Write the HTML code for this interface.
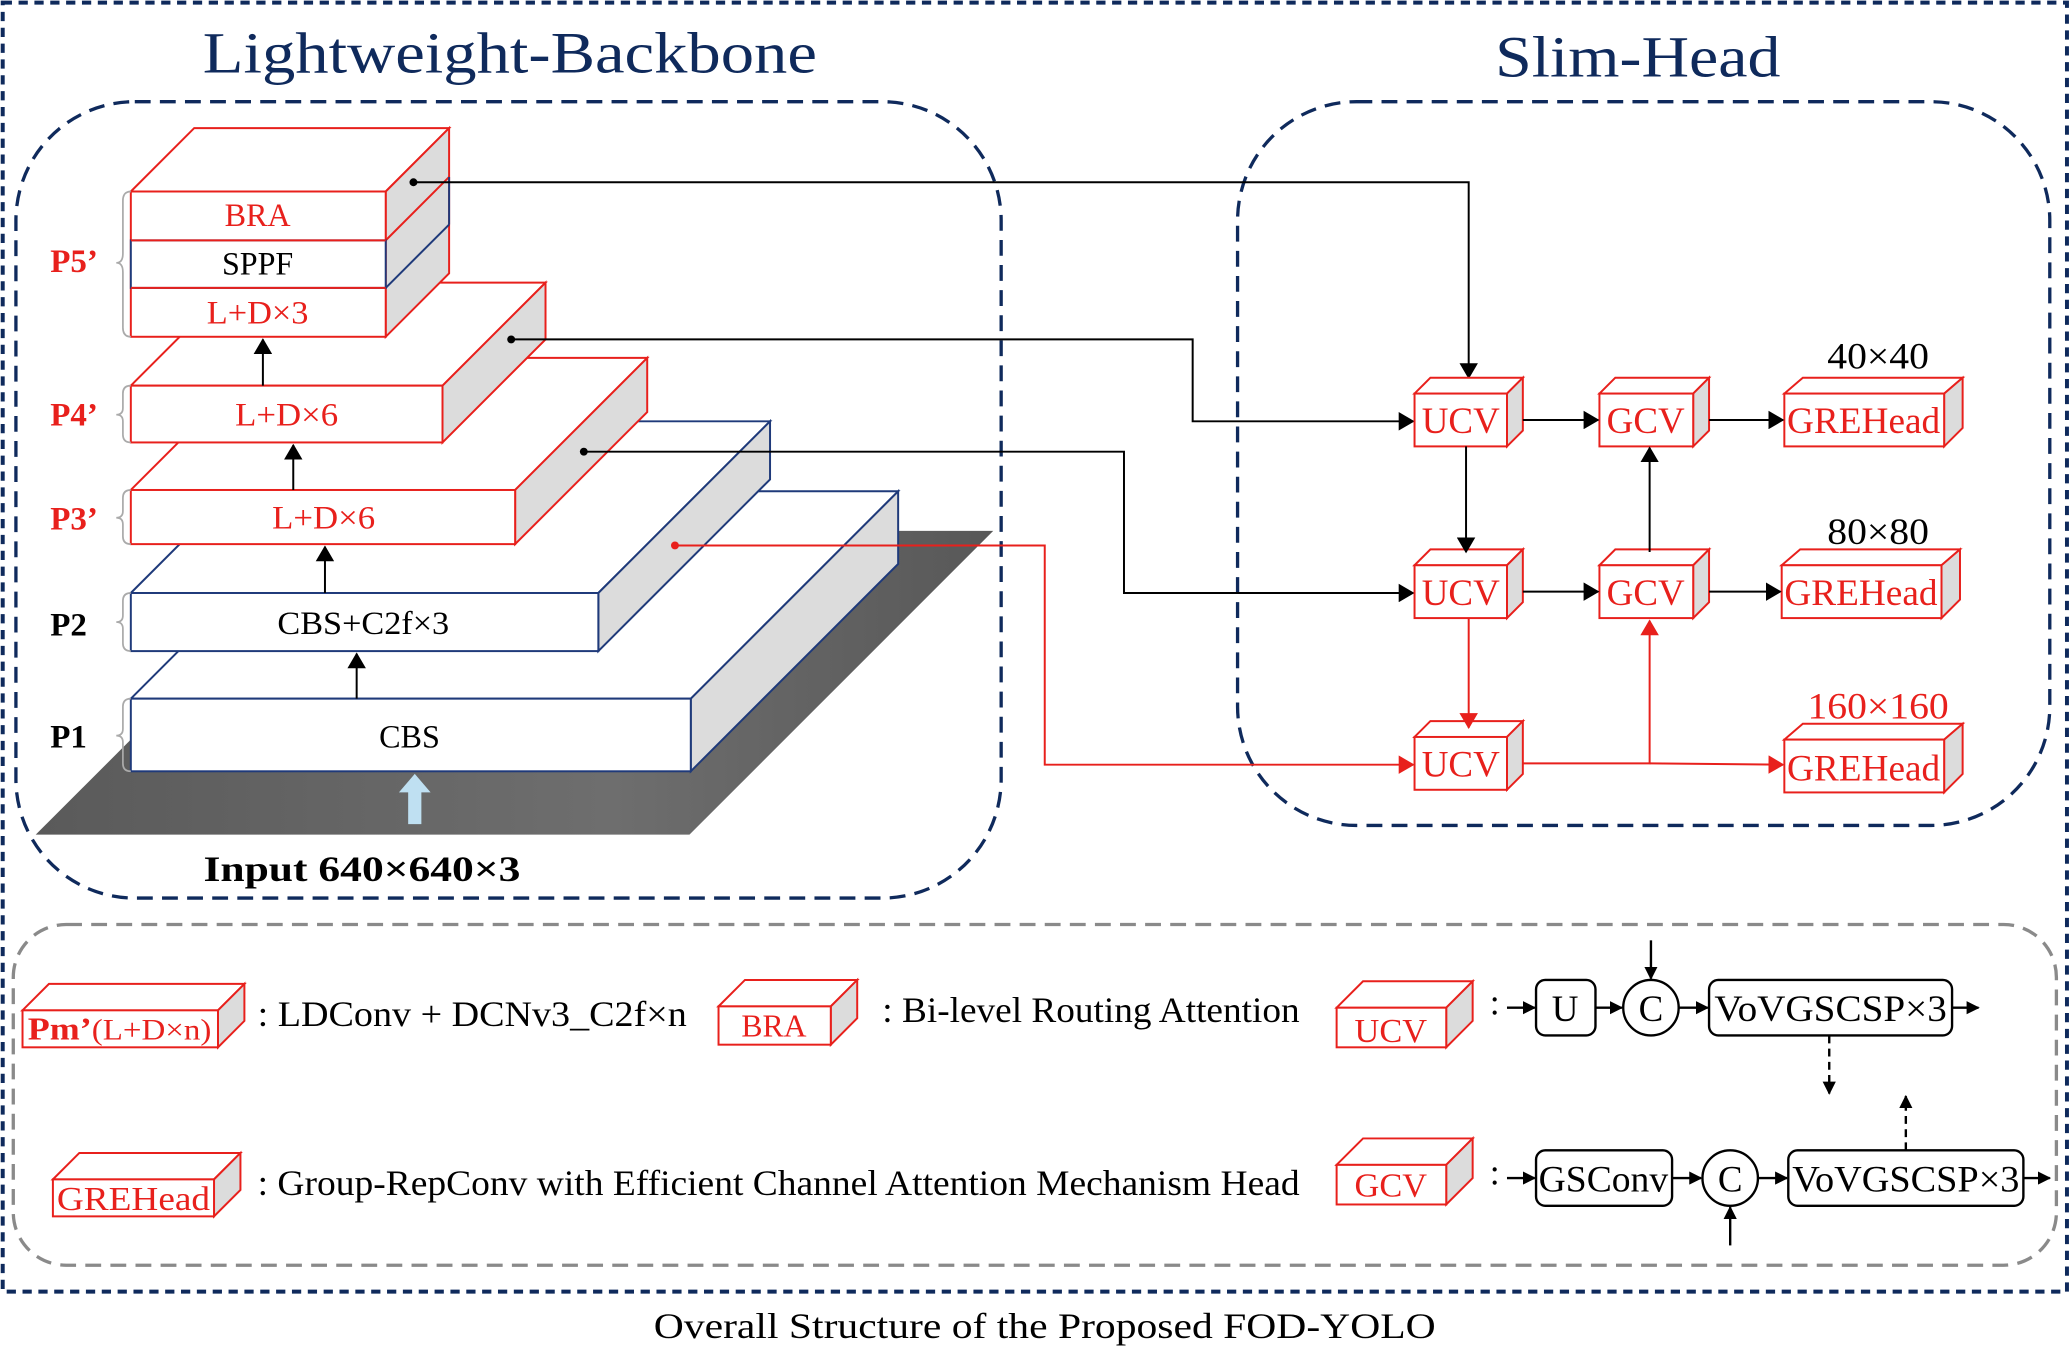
<!DOCTYPE html>
<html><head><meta charset="utf-8"><style>
html,body{margin:0;padding:0;background:#fff;}
svg{display:block;}
text{font-family:"Liberation Serif",serif;}
</style></head><body>
<svg width="2071" height="1359" viewBox="0 0 1568 1029" xmlns="http://www.w3.org/2000/svg">
<defs>
<marker id="ab" markerWidth="10" markerHeight="10" refX="9" refY="5" orient="auto" markerUnits="userSpaceOnUse"><path d="M0,0 L10,5 L0,10 Z" fill="#000"/></marker>
<marker id="abs" markerWidth="12" markerHeight="14" refX="11" refY="7" orient="auto" markerUnits="userSpaceOnUse"><path d="M0,0 L12,7 L0,14 Z" fill="#000"/></marker>
<marker id="ars" markerWidth="12" markerHeight="14" refX="11" refY="7" orient="auto" markerUnits="userSpaceOnUse"><path d="M0,0 L12,7 L0,14 Z" fill="#e8201c"/></marker>
<linearGradient id="gr" x1="0" y1="0" x2="1" y2="0"><stop offset="0" stop-color="#5a5a5a"/><stop offset="0.6" stop-color="#6e6e6e"/><stop offset="1" stop-color="#585858"/></linearGradient>
</defs>

<rect x="2" y="2" width="1563" height="976" fill="none" stroke="#0f2a5c" stroke-width="3" stroke-dasharray="7,5"/>

<text x="386" y="55" font-size="44" fill="#0f2a5c" text-anchor="middle" textLength="465" lengthAdjust="spacingAndGlyphs">Lightweight-Backbone</text>
<text x="1240" y="58" font-size="44" fill="#0f2a5c" text-anchor="middle" textLength="216" lengthAdjust="spacingAndGlyphs">Slim-Head</text>

<rect x="12" y="77" width="746" height="603" rx="90" fill="none" stroke="#0f2a5c" stroke-width="2.5" stroke-dasharray="12,7"/>
<rect x="937" y="77" width="615" height="548" rx="90" fill="none" stroke="#0f2a5c" stroke-width="2.5" stroke-dasharray="12,7"/>
<rect x="10" y="700" width="1547" height="258" rx="40" fill="none" stroke="#8a8a8a" stroke-width="2.5" stroke-dasharray="12,7"/>

<polygon points="27,632 522,632 752,402 257,402" fill="url(#gr)"/>

<g stroke="#1f3a7a" stroke-width="1.5">
<polygon points="99,529 256,372 680,372 523,529" fill="#fff"/>
<polygon points="523,529 680,372 680,427 523,584" fill="#dcdcdc"/>
<rect x="99" y="529" width="424" height="55" fill="#fff"/>
<polygon points="99,449 229,319 583,319 453,449" fill="#fff"/>
<polygon points="453,449 583,319 583,363 453,493" fill="#dcdcdc"/>
<rect x="99" y="449" width="354" height="44" fill="#fff"/>
</g>
<g stroke="#e8201c" stroke-width="1.5">
<polygon points="99,371 199,271 490,271 390,371" fill="#fff"/>
<polygon points="390,371 490,271 490,312 390,412" fill="#dcdcdc"/>
<rect x="99" y="371" width="291" height="41" fill="#fff"/>
<polygon points="99,292 177,214 413,214 335,292" fill="#fff"/>
<polygon points="335,292 413,214 413,257 335,335" fill="#dcdcdc"/>
<rect x="99" y="292" width="236" height="43" fill="#fff"/>
<polygon points="99,145 147,97 340,97 292,145" fill="#fff"/>
<polygon points="292,145 340,97 340,207 292,255" fill="#dcdcdc"/>
<rect x="99" y="145" width="193" height="110" fill="#fff"/>
<line x1="292" y1="182" x2="340" y2="134"/>
</g>
<rect x="99" y="182" width="193" height="36" fill="#fff" stroke="#1f3a7a" stroke-width="1.5"/>
<line x1="292" y1="218" x2="340" y2="170" stroke="#1f3a7a" stroke-width="1.5"/>
<line x1="340" y1="134" x2="340" y2="170" stroke="#1f3a7a" stroke-width="1.5"/>
<line x1="99" y1="182" x2="292" y2="182" stroke="#e8201c" stroke-width="1.5"/>
<line x1="99" y1="218" x2="292" y2="218" stroke="#e8201c" stroke-width="1.5"/>

<g font-size="25" text-anchor="middle">
<text x="195" y="171" fill="#e8201c" textLength="50" lengthAdjust="spacingAndGlyphs">BRA</text>
<text x="195" y="208" fill="#000" textLength="54" lengthAdjust="spacingAndGlyphs">SPPF</text>
<text x="195" y="245" fill="#e8201c" textLength="77" lengthAdjust="spacingAndGlyphs">L+D×3</text>
<text x="217" y="322" fill="#e8201c" textLength="78" lengthAdjust="spacingAndGlyphs">L+D×6</text>
<text x="245" y="400" fill="#e8201c" textLength="78" lengthAdjust="spacingAndGlyphs">L+D×6</text>
<text x="275" y="480" fill="#000" textLength="130" lengthAdjust="spacingAndGlyphs">CBS+C2f×3</text>
<text x="310" y="566" fill="#000" textLength="46" lengthAdjust="spacingAndGlyphs">CBS</text>
</g>
<g font-size="25" font-weight="bold">
<text x="38" y="206" fill="#e8201c">P5’</text>
<text x="38" y="322" fill="#e8201c">P4’</text>
<text x="38" y="401" fill="#e8201c">P3’</text>
<text x="38" y="481" fill="#000">P2</text>
<text x="38" y="566" fill="#000">P1</text>
</g>
<g fill="none" stroke="#aaa" stroke-width="1.3">
<path d="M99,145 Q93,145 93,152 L93,192 Q93,199 88,199 Q93,199 93,206 L93,248 Q93,255 99,255"/>
<path d="M99,292 Q93,292 93,298 L93,309 Q93,314 88,314 Q93,314 93,319 L93,329 Q93,335 99,335"/>
<path d="M99,371 Q93,371 93,377 L93,387 Q93,392 88,392 Q93,392 93,397 L93,406 Q93,412 99,412"/>
<path d="M99,449 Q93,449 93,455 L93,466 Q93,471 88,471 Q93,471 93,476 L93,487 Q93,493 99,493"/>
<path d="M99,529 Q93,529 93,535 L93,552 Q93,557 88,557 Q93,557 93,562 L93,578 Q93,584 99,584"/>
</g>
<g stroke="#000" stroke-width="1.5">
<line x1="270" y1="529" x2="270" y2="495" marker-end="url(#abs)"/>
<line x1="246" y1="449" x2="246" y2="414" marker-end="url(#abs)"/>
<line x1="222" y1="371" x2="222" y2="337" marker-end="url(#abs)"/>
<line x1="199" y1="292" x2="199" y2="257" marker-end="url(#abs)"/>
</g>
<polygon points="309,624 319,624 319,600 326,600 314,586 302,600 309,600" fill="#bfe0f2"/>
<text x="274" y="667" font-size="27" font-weight="bold" text-anchor="middle" textLength="240" lengthAdjust="spacingAndGlyphs">Input 640×640×3</text>

<g fill="none" stroke-width="1.5">
<polyline points="313,138 1112,138 1112,286" stroke="#000" marker-end="url(#abs)"/>
<polyline points="387,257 903,257 903,319 1070,319" stroke="#000" marker-end="url(#abs)"/>
<polyline points="442,342 851,342 851,449 1070,449" stroke="#000" marker-end="url(#abs)"/>
<polyline points="511,413 791,413 791,579 1070,579" stroke="#e8201c" marker-end="url(#ars)"/>
</g>
<circle cx="313" cy="138" r="3" fill="#000"/>
<circle cx="387" cy="257" r="3" fill="#000"/>
<circle cx="442" cy="342" r="3" fill="#000"/>
<circle cx="511" cy="413" r="3" fill="#e8201c"/>

<g stroke="#e8201c" stroke-width="1.5" fill="#fff">
<polygon points="1071,298 1083,286 1153,286 1141,298"/><polygon points="1141,298 1153,286 1153,326 1141,338" fill="#dcdcdc"/><rect x="1071" y="298" width="70" height="40"/>
<polygon points="1071,428 1083,416 1153,416 1141,428"/><polygon points="1141,428 1153,416 1153,456 1141,468" fill="#dcdcdc"/><rect x="1071" y="428" width="70" height="40"/>
<polygon points="1071,558 1083,546 1153,546 1141,558"/><polygon points="1141,558 1153,546 1153,586 1141,598" fill="#dcdcdc"/><rect x="1071" y="558" width="70" height="40"/>
<polygon points="1211,298 1223,286 1294,286 1282,298"/><polygon points="1282,298 1294,286 1294,326 1282,338" fill="#dcdcdc"/><rect x="1211" y="298" width="71" height="40"/>
<polygon points="1211,428 1223,416 1294,416 1282,428"/><polygon points="1282,428 1294,416 1294,456 1282,468" fill="#dcdcdc"/><rect x="1211" y="428" width="71" height="40"/>
<polygon points="1351,298 1365,286 1486,286 1472,298"/><polygon points="1472,298 1486,286 1486,324 1472,338" fill="#dcdcdc"/><rect x="1351" y="298" width="121" height="40"/>
<polygon points="1349,428 1363,416 1484,416 1470,428"/><polygon points="1470,428 1484,416 1484,454 1470,468" fill="#dcdcdc"/><rect x="1349" y="428" width="121" height="40"/>
<polygon points="1351,560 1365,548 1486,548 1472,560"/><polygon points="1472,560 1486,548 1486,586 1472,600" fill="#dcdcdc"/><rect x="1351" y="560" width="121" height="40"/>
</g>
<g font-size="28" fill="#e8201c" text-anchor="middle">
<text x="1106" y="328">UCV</text><text x="1106" y="458">UCV</text><text x="1106" y="588">UCV</text>
<text x="1246" y="328">GCV</text><text x="1246" y="458">GCV</text>
<text x="1411" y="328" textLength="116" lengthAdjust="spacingAndGlyphs">GREHead</text>
<text x="1409" y="458" textLength="116" lengthAdjust="spacingAndGlyphs">GREHead</text>
<text x="1411" y="591" textLength="116" lengthAdjust="spacingAndGlyphs">GREHead</text>
</g>
<g font-size="28" text-anchor="middle">
<text x="1422" y="279" textLength="77" lengthAdjust="spacingAndGlyphs">40×40</text>
<text x="1422" y="412" textLength="77" lengthAdjust="spacingAndGlyphs">80×80</text>
<text x="1422" y="544" fill="#e8201c" textLength="107" lengthAdjust="spacingAndGlyphs">160×160</text>
</g>
<g stroke-width="1.5" fill="none">
<line x1="1153" y1="318" x2="1210" y2="318" stroke="#000" marker-end="url(#abs)"/>
<line x1="1294" y1="318" x2="1350" y2="318" stroke="#000" marker-end="url(#abs)"/>
<line x1="1153" y1="448" x2="1210" y2="448" stroke="#000" marker-end="url(#abs)"/>
<line x1="1294" y1="448" x2="1348" y2="448" stroke="#000" marker-end="url(#abs)"/>
<line x1="1110" y1="338" x2="1110" y2="418" stroke="#000" marker-end="url(#abs)"/>
<line x1="1249" y1="418" x2="1249" y2="339" stroke="#000" marker-end="url(#abs)"/>
<line x1="1112" y1="468" x2="1112" y2="551" stroke="#e8201c" marker-end="url(#ars)"/>
<polyline points="1153,578 1249,578 1249,470" stroke="#e8201c" marker-end="url(#ars)"/>
<line x1="1249" y1="578" x2="1350" y2="579" stroke="#e8201c" marker-end="url(#ars)"/>
</g>

<g stroke="#e8201c" stroke-width="1.5" fill="#fff">
<polygon points="17,765 37,745 185,745 165,765"/><polygon points="165,765 185,745 185,773 165,793" fill="#dcdcdc"/><rect x="17" y="765" width="148" height="28"/>
<polygon points="544,762 564,742 649,742 629,762"/><polygon points="629,762 649,742 649,771 629,791" fill="#dcdcdc"/><rect x="544" y="762" width="85" height="29"/>
<polygon points="1012,763 1032,743 1115,743 1095,763"/><polygon points="1095,763 1115,743 1115,773 1095,793" fill="#dcdcdc"/><rect x="1012" y="763" width="83" height="30"/>
<polygon points="40,893 60,873 182,873 162,893"/><polygon points="162,893 182,873 182,901 162,921" fill="#dcdcdc"/><rect x="40" y="893" width="122" height="28"/>
<polygon points="1012,882 1032,862 1115,862 1095,882"/><polygon points="1095,882 1115,862 1115,892 1095,912" fill="#dcdcdc"/><rect x="1012" y="882" width="83" height="30"/>
</g>
<text x="21" y="787" fill="#e8201c" font-size="24" textLength="139" lengthAdjust="spacingAndGlyphs"><tspan font-weight="bold">Pm’</tspan><tspan font-size="22">(L+D×n)</tspan></text>
<text x="586" y="785" fill="#e8201c" font-size="24" text-anchor="middle">BRA</text>
<text x="1053" y="789" fill="#e8201c" font-size="26" text-anchor="middle">UCV</text>
<text x="101" y="916" fill="#e8201c" font-size="26" text-anchor="middle" textLength="116" lengthAdjust="spacingAndGlyphs">GREHead</text>
<text x="1053" y="906" fill="#e8201c" font-size="26" text-anchor="middle">GCV</text>

<g font-size="27" fill="#000">
<text x="195" y="777" textLength="325" lengthAdjust="spacingAndGlyphs">: LDConv + DCNv3_C2f×n</text>
<text x="668" y="774" textLength="316" lengthAdjust="spacingAndGlyphs">: Bi-level Routing Attention</text>
<text x="195" y="905" textLength="789" lengthAdjust="spacingAndGlyphs">: Group-RepConv with Efficient Channel Attention Mechanism Head</text>
<text x="1128" y="768">:</text>
<text x="1128" y="897">:</text>
</g>
<g stroke="#000" stroke-width="1.8" fill="#fff">
<rect x="1163" y="742" width="45" height="42" rx="7"/>
<circle cx="1250" cy="763" r="21"/>
<rect x="1294" y="742" width="184" height="42" rx="7"/>
<rect x="1163" y="871" width="103" height="42" rx="7"/>
<circle cx="1310" cy="892" r="21"/>
<rect x="1354" y="871" width="178" height="42" rx="7"/>
</g>
<g stroke="#000" stroke-width="1.8" fill="none">
<line x1="1141" y1="763" x2="1162" y2="763" marker-end="url(#ab)"/>
<line x1="1208" y1="763" x2="1228" y2="763" marker-end="url(#ab)"/>
<line x1="1271" y1="763" x2="1293" y2="763" marker-end="url(#ab)"/>
<line x1="1478" y1="763" x2="1498" y2="763" marker-end="url(#ab)"/>
<line x1="1250" y1="712" x2="1250" y2="741" marker-end="url(#ab)"/>
<line x1="1385" y1="784" x2="1385" y2="828" stroke-dasharray="6,4" marker-end="url(#ab)"/>
<line x1="1141" y1="892" x2="1162" y2="892" marker-end="url(#ab)"/>
<line x1="1266" y1="892" x2="1288" y2="892" marker-end="url(#ab)"/>
<line x1="1331" y1="892" x2="1353" y2="892" marker-end="url(#ab)"/>
<line x1="1532" y1="892" x2="1552" y2="892" marker-end="url(#ab)"/>
<line x1="1310" y1="943" x2="1310" y2="914" marker-end="url(#ab)"/>
<line x1="1443" y1="871" x2="1443" y2="830" stroke-dasharray="6,4" marker-end="url(#ab)"/>
</g>
<g font-size="28" text-anchor="middle">
<text x="1185" y="773">U</text>
<text x="1250" y="773">C</text>
<text x="1386" y="773" textLength="176" lengthAdjust="spacingAndGlyphs">VoVGSCSP×3</text>
<text x="1214" y="902" textLength="98" lengthAdjust="spacingAndGlyphs">GSConv</text>
<text x="1310" y="902">C</text>
<text x="1443" y="902" textLength="172" lengthAdjust="spacingAndGlyphs">VoVGSCSP×3</text>
</g>

<text x="791" y="1013" font-size="27" text-anchor="middle" textLength="592" lengthAdjust="spacingAndGlyphs">Overall Structure of the Proposed FOD-YOLO</text>
</svg>
</body></html>
